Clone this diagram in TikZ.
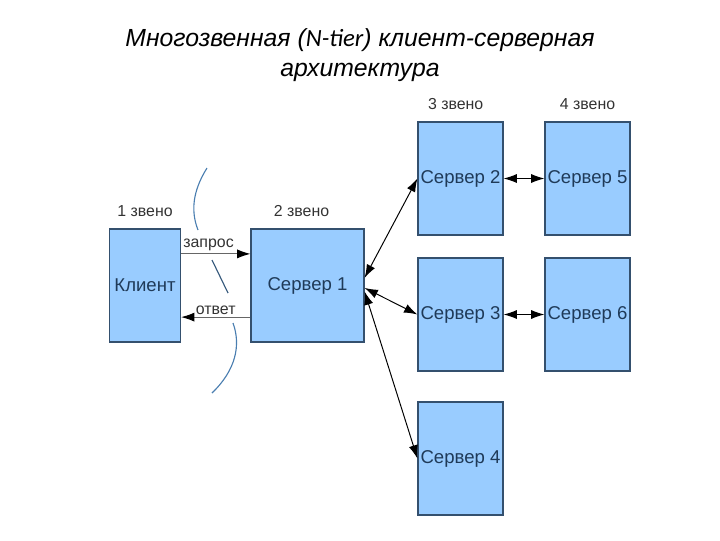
\documentclass[tikz,border=0pt]{standalone}
\usepackage{fontspec}
\setmainfont{Liberation Sans}
\newfontfamily\calfont{Carlito}
\usepackage{tikz}
\usetikzlibrary{positioning, arrows.meta}
\definecolor{boxfill}{HTML}{99CCFF}
\definecolor{boxline}{HTML}{34506E}
\definecolor{boxtext}{HTML}{1F3A58}
\definecolor{labtext}{HTML}{333333}
\definecolor{cutline}{HTML}{4A7EB0}
\tikzset{
  srvbox/.style={draw=boxline, line width=0.8pt, fill=boxfill, text=boxtext,
    font=\fontsize{13.2}{15}\selectfont, minimum width=2.125cm,
    minimum height=2.825cm, inner sep=0pt},
  zveno/.style={font=\fontsize{11.3}{13}\selectfont, text=labtext, inner sep=0pt},
  link/.style={line width=0.7pt, black, {Latex[length=9.5pt,width=6.5pt]}-{Latex[length=9.5pt,width=6.5pt]}},
  msg/.style={line width=0.7pt, black!60, -{Latex[length=9.5pt,width=6.5pt,black]}}
}

\begin{document}
\begin{tikzpicture}[x=0.025cm, y=-0.025cm]
      \useasboundingbox (0,0) rectangle (720,540);
      % Title
      \node[font=\fontsize{17.6}{21}\selectfont\itshape, align=center] (title)
        at (360,55) {Многозвенная ({\calfont N-tier}) клиент-серверная\\архитектура};

      % Tier 1 and 2
      \node[srvbox, minimum width=1.775cm] (client) at (145,285.5) {Клиент};
      \node[srvbox, minimum width=2.825cm] (srv1) at (307.5,285.5) {Сервер 1};

      % Tier 3 and 4
      \node[srvbox] (srv2) at (460.5,178.5) {Сервер 2};
      \node[srvbox] (srv3) at (460.5,314.5) {Сервер 3};
      \node[srvbox] (srv4) at (460.5,458.5) {Сервер 4};
      \node[srvbox] (srv5) at (587.5,178.5) {Сервер 5};
      \node[srvbox] (srv6) at (587.5,314.5) {Сервер 6};

      % Tier labels
      \node[zveno, above=2.8mm of client] (z1) {1 звено};
      \node[zveno, above=2.8mm of srv1, xshift=-0.15cm] (z2) {2 звено};
      \node[zveno, above=2.8mm of srv2, xshift=-0.12cm] (z3) {3 звено};
      \node[zveno, above=2.8mm of srv5] (z4) {4 звено};

      % Boundary between client and server
      \draw[cutline, line width=0.8pt] (207,168) .. controls (192,192) and (191,212) .. (198,230);
      \draw[cutline!70!black, line width=0.8pt] (212,260) -- (228,293);
      \draw[cutline, line width=0.8pt] (233,323) .. controls (241,345) and (236,370) .. (212,393);

      % Request and response
      \draw[msg] ([yshift=0.79cm]client.east) -- ([yshift=0.79cm]srv1.west)
        node[midway, above=1.5pt, xshift=-0.18cm, zveno] (req) {запрос};
      \draw[msg] ([yshift=-0.79cm]srv1.west) -- ([yshift=-0.79cm]client.east)
        node[midway, above=1.5pt, zveno] (resp) {ответ};

      % Server links
      \draw[link] ([yshift=0.19cm]srv1.east) -- (srv2.west);
      \draw[link] ([yshift=-0.06cm]srv1.east) -- (srv3.west);
      \draw[link] ([yshift=-0.15cm]srv1.east) -- (srv4.west);
      \draw[link] (srv2.east) -- (srv5.west);
      \draw[link] (srv3.east) -- (srv6.west);
    \end{tikzpicture}
\end{document}
